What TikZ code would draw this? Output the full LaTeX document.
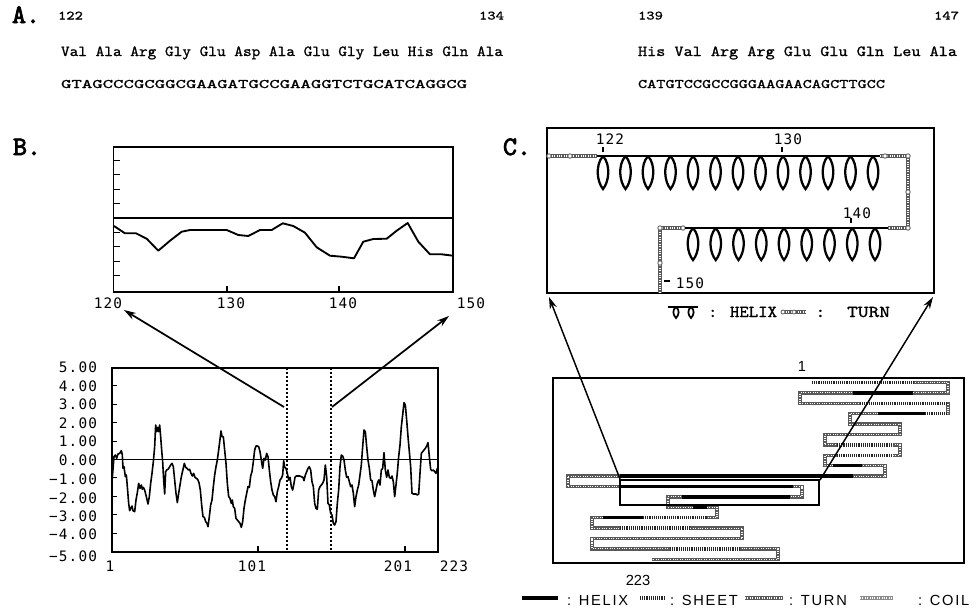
\documentclass[tikz,border=0pt]{standalone}
\usepackage{fontspec}
\usepackage{graphicx}
\usetikzlibrary{arrows.meta}
\newfontfamily\axf[LetterSpace=8]{DejaVu Sans Mono}
\newfontfamily\helvsp[LetterSpace=12]{Liberation Sans}
\newfontfamily\helv{Liberation Sans}
\newfontfamily\lmmb[Extension=.otf, FakeBold=3]{lmmono10-regular}
\newfontfamily\lmmm[Extension=.otf, FakeBold=1]{lmmono10-regular}
\newdimen\pxu \pxu=0.75pt
\newcommand\fitw[2]{\resizebox{#1\pxu}{\height}{#2}}
\def\serp{(812,382.5) -- (948,382.5) -- (948,392.9) -- (800,392.9) -- (800,403.3) -- (948,403.3) -- (948,413.7) -- (850,413.7) -- (850,424.1) -- (900,424.1) -- (900,434.5) -- (825,434.5) -- (825,444.9) -- (900,444.9) -- (900,455.3) -- (825,455.3) -- (825,465.7) -- (885,465.7) -- (885,476.1) -- (568,476.1) -- (568,486.5) -- (802,486.5) -- (802,496.9) -- (668,496.9) -- (668,507.3) -- (717,507.3) -- (717,517.7) -- (592,517.7) -- (592,528.1) -- (742,528.1) -- (742,538.5) -- (592,538.5) -- (592,548.9) -- (778,548.9) -- (778,559.3) -- (652,559.3)}
\begin{document}
\begin{tikzpicture}[x=0.75pt,y=-0.75pt,
  every node/.style={inner sep=0pt,outer sep=0pt},
  panel/.style={font=\lmmb\fontsize{20}{20}\selectfont, anchor=base west},
  seqnum/.style={font=\lmmm\fontsize{9.5}{10}\selectfont},
  seqtxt/.style={font=\lmmm\fontsize{11.5}{12}\selectfont, anchor=base west},
  dnatxt/.style={font=\lmmm\fontsize{9.8}{10}\selectfont, anchor=base west},
  axl/.style={font=\axf\fontsize{10.8}{11}\selectfont},
  sfl/.style={font=\helv\fontsize{11}{12}\selectfont},
  plotframe/.style={draw=black, line width=1pt},
  zeroline/.style={draw=black, line width=0.9pt},
  tickline/.style={draw=black, line width=0.8pt},
  profile/.style={draw=black, line width=1.4pt, line join=round},
  selline/.style={draw=black, line width=0.8pt, dash pattern=on 1.5pt off 1.5pt},
  zoomarrow/.style={draw=black, line width=1.3pt, -{Stealth[length=9pt,width=5.5pt]}},
  hlx/.style={draw=black, line width=1.7pt},
  turnp/.style={draw=black!65, line width=2.4pt},
  turntex/.style={draw=white, line width=0.8pt, dash pattern=on 0.8pt off 1pt},
  band/.style={draw=black!65, line width=2.6pt},
  coilb/.style={draw=black!45, line width=2.6pt},
  sheetb/.style={preaction={draw=white, line width=2.8pt, solid}, draw=black!85, line width=2.6pt, dash pattern=on 0.7pt off 0.7pt},
  helixb/.style={draw=black, line width=2.6pt},
  lgdm/.style={font=\lmmm\fontsize{12.5}{13}\selectfont, anchor=base west},
  lgds/.style={font=\helvsp\fontsize{11}{12}\selectfont, anchor=base west}
]
\useasboundingbox (0,0) rectangle (976,612);

% ---------------- Panel A ----------------
\node[panel] (A) at (12,23) {A.};
\node[seqnum, anchor=base west] (n122) at (58,19.5) {\fitw{25}{122}};
\node[seqnum, anchor=base east] (n134) at (504,19.5) {\fitw{25}{134}};
\node[seqnum, anchor=base west] (n139) at (638,19.5) {\fitw{25}{139}};
\node[seqnum, anchor=base east] (n147) at (959,19.5) {\fitw{25}{147}};
\node[seqtxt] (p1) at (61,56) {\fitw{442}{Val Ala Arg Gly Glu Asp Ala Glu Gly Leu His Gln Ala}};
\node[seqtxt] (p2) at (638,56) {\fitw{319}{His Val Arg Arg Glu Glu Gln Leu Ala}};
\node[dnatxt] (d1) at (61,88) {\fitw{406}{GTAGCCCGCGGCGAAGATGCCGAAGGTCTGCATCAGGCG}};
\node[dnatxt] (d2) at (638,88) {\fitw{247}{CATGTCCGCCGGGAAGAACAGCTTGCC}};

% ---------------- Panel B ----------------
\node[panel] (B) at (13,155) {B.};
% zoomed plot
\draw[plotframe] (113.5,147) rectangle (453,292);
\draw[zeroline] (113.5,218) -- (453,218);
\foreach \ty in {160.4,174.8,189.2,203.6,232.4,246.8,261.2,275.6}
  \draw[tickline] (113.5,\ty) -- (120,\ty);
\foreach \tx in {227,339} \draw[tickline] (\tx,292) -- (\tx,286);
\draw[profile] (114,226) -- (125,233.3) -- (136,233.3) -- (146.7,238.7) -- (158.3,250.7) -- (170,240.7) -- (181.7,231.7) -- (190,230) -- (226.7,230) -- (238.3,235) -- (248.3,236) -- (260,230) -- (271.7,230) -- (282.7,223.3) -- (293.3,226) -- (305,232.7) -- (316.7,247.3) -- (330,255.7) -- (341.7,256.7) -- (354,258.3) -- (363.3,241.7) -- (373.3,239) -- (386.7,238.7) -- (396.7,230.7) -- (407.7,223) -- (418.3,241.7) -- (430,254.3) -- (441.7,254.3) -- (453,255.7);
\node[axl] (l120) at (108,303) {120};
\node[axl] (l130) at (231,303) {130};
\node[axl] (l140) at (343,303) {140};
\node[axl] (l150) at (471,303) {150};

% full plot
\draw[plotframe] (112,368) rectangle (438,552);
\draw[zeroline] (112,459.5) -- (438,459.5);
\foreach \ty in {385.9,404.3,422.7,441.1,477.9,496.3,514.7,533.1}
  \draw[tickline] (112,\ty) -- (117,\ty);
\foreach \tx in {258,405} \draw[tickline] (\tx,552) -- (\tx,546);
\draw[selline] (287,368) -- (287,552);
\draw[selline] (331,368) -- (331,552);
\foreach \v/\yy [count=\i] in {5.00/367,4.00/386,3.00/404,2.00/423,1.00/441,0.00/460,−1.00/479,−2.00/498,−3.00/516,−4.00/534,−5.00/556}
  \node[axl, anchor=east] (yl\i) at (97,\yy) {\v};
\node[axl] (x1) at (110,566) {1};
\node[axl] (x101) at (252,566) {101};
\node[axl] (x201) at (398,566) {201};
\node[axl] (x223) at (454,566) {223};
\begin{scope}[xshift=81pt, yshift=-292.5pt, x=0.25pt, y=-0.25pt]
\draw[profile, line width=1.2pt] plot coordinates {(12,275) (18,200) (22,195) (26,205) (30,192) (35,190) (40,182) (43,195) (45,235) (48,230) (52,260) (55,255) (58,290) (62,340) (65,362) (68,355) (72,348) (75,362) (80,365) (84,330) (88,308) (92,280) (96,295) (100,285) (103,298) (106,292) (110,300) (115,320) (120,342) (124,320) (128,280) (132,250) (136,215) (140,170) (143,105) (146,125) (149,112) (152,125) (155,105) (158,140) (161,180) (164,215) (167,270) (170,312) (173,245) (176,240) (180,238) (184,232) (188,225) (192,220) (196,230) (200,270) (204,310) (208,338) (212,310) (216,285) (220,260) (225,238) (229,220) (233,232) (237,235) (241,240) (245,238) (249,250) (253,258) (257,250) (261,262) (265,265) (269,268) (273,278) (277,300) (281,345) (285,380) (289,382) (293,395) (297,400) (300,410) (304,380) (308,345) (312,330) (316,290) (320,255) (324,230) (328,210) (332,180) (336,148) (339,123) (342,140) (346,140) (350,180) (354,220) (358,280) (362,320) (366,325) (370,340) (373,330) (376,350) (380,355) (384,385) (388,390) (392,395) (396,400) (400,412) (404,395) (408,355) (412,330) (416,310) (420,290) (424,292) (428,258) (432,245) (436,215) (440,180) (444,168) (448,168) (452,170) (456,185) (460,210) (464,235) (468,205) (472,210) (476,190) (480,200) (484,240) (488,275) (492,300) (496,315) (500,320) (504,335) (508,305) (512,290) (516,270) (520,265) (524,255) (527,212) (530,232) (534,235) (538,250) (542,270) (546,262) (550,290) (554,300) (558,280) (561,262) (565,258) (570,258) (575,258) (580,260) (585,262) (588,272) (592,255) (596,245) (600,235) (604,230) (608,240) (612,275) (616,290) (620,340) (624,355) (628,358) (632,300) (636,290) (640,285) (644,280) (648,270) (652,225) (656,260) (660,340) (664,345) (668,370) (672,375) (676,400) (680,405) (684,395) (688,340) (692,300) (696,230) (700,195) (704,198) (708,210) (712,240) (716,262) (720,260) (724,275) (728,290) (732,285) (736,310) (740,350) (744,320) (748,300) (752,285) (756,255) (760,225) (764,170) (768,120) (772,125) (776,170) (780,210) (784,235) (788,270) (792,272) (796,300) (800,320) (804,300) (808,280) (812,270) (816,285) (820,240) (824,235) (828,188) (832,240) (836,262) (840,240) (844,262) (848,265) (852,258) (856,275) (860,320) (864,285) (868,248) (872,200) (876,165) (880,110) (884,75) (888,38) (892,45) (896,90) (900,140) (904,185) (908,230) (912,310) (916,312) (920,312) (924,312) (928,315) (932,312) (936,250) (940,190) (944,185) (948,180) (952,175) (956,168) (960,158) (964,200) (968,238) (972,242) (976,240) (980,245) (984,250) (988,235) (990,240)};
\end{scope}
\coordinate (bL) at (284,407);
\coordinate (bR) at (332,407);
\coordinate (tL) at (124,310);
\coordinate (tR) at (449,316);
\draw[zoomarrow] (bL) -- (tL);
\draw[zoomarrow] (bR) -- (tR);

% ---------------- Panel C ----------------
\node[panel] (C) at (503,155) {C.};
\draw[plotframe] (547,128) rectangle (934,293);
% turns
\draw[turnp] (547,156) -- (597,156);
\draw[turnp] (880,156) -- (908,156) -- (908,228) -- (888,228);
\draw[turnp] (685,228) -- (660,228) -- (660,293);
\draw[turntex] (547,156) -- (597,156);
\draw[turntex] (880,156) -- (908,156) -- (908,228) -- (888,228);
\draw[turntex] (685,228) -- (660,228) -- (660,293);
\foreach \mx/\my in {549/156,570/156,885/156,908/156,908/192,908/228,683/228,660/228,660/263}
  \draw[draw=black!60, fill=white, line width=0.7pt] (\mx,\my) circle (2.2);
% helices
\draw[hlx] (597,156) -- (880,156);
\foreach \cx in {603,625.5,...,874}
  \draw[hlx] (\cx,156) .. controls (\cx-8,165) and (\cx-6,182) .. (\cx,189) .. controls (\cx+6,182) and (\cx+8,165) .. (\cx,156);
\draw[hlx] (685,228) -- (888,228);
\foreach \cx in {693,715.75,...,876}
  \draw[hlx] (\cx,228) .. controls (\cx-8,237) and (\cx-6,253) .. (\cx,260) .. controls (\cx+6,253) and (\cx+8,237) .. (\cx,228);
% residue labels
\node[axl] (c122) at (610,139) {122};
\draw[tickline] (603,147) -- (603,152);
\node[axl] (c130) at (788,139) {130};
\draw[tickline] (782,147) -- (782,152);
\node[axl] (c140) at (857,213) {140};
\draw[tickline] (851,218) -- (851,223);
\draw[tickline] (664,281) -- (670,281);
\node[axl] (c150) at (690,283) {150};
% legend
\draw[hlx] (668,307) -- (698,307);
\foreach \cx in {676,691}
  \draw[hlx, line width=1.3pt] (\cx,307) .. controls (\cx-4,310) and (\cx-3,315) .. (\cx,318) .. controls (\cx+3,315) and (\cx+4,310) .. (\cx,307);
\node[lgdm] (lh) at (708,317) {\fitw{69}{: HELIX}};
\draw[turnp] (781,312) -- (806,312);
\draw[turntex] (781,312) -- (806,312);
\draw[draw=black!60, fill=white, line width=0.6pt] (783,312) circle (2);
\draw[draw=black!60, fill=white, line width=0.6pt] (794,312) circle (2);
\node[lgdm] (lt) at (815,317) {\fitw{75}{:\ \ TURN}};

% secondary structure overview
\draw[plotframe] (553,378) rectangle (964,563);
\node[sfl] (s1) at (802,366) {1};
\node[sfl] (s223) at (638,580) {223};
\draw[band] \serp;
\draw[turntex] \serp;
% sheets
\draw[sheetb] (812,382.5) -- (913,382.5);
\draw[sheetb] (860,403.3) -- (946,403.3);
\draw[sheetb] (925,413.7) -- (946,413.7);
\draw[sheetb] (837,444.9) -- (893,444.9);
\draw[sheetb] (837,455.3) -- (893,455.3);
\draw[sheetb] (643,517.7) -- (707,517.7);
\draw[sheetb] (620,528.1) -- (690,528.1);
\draw[sheetb] (670,548.9) -- (740,548.9);
% helices
\draw[helixb] (853,392.9) -- (913,392.9);
\draw[helixb] (878,413.7) -- (925,413.7);
\draw[helixb] (833,465.7) -- (862,465.7);
\draw[helixb] (620,476.1) -- (853,476.1);
\draw[helixb] (620,486.5) -- (793,486.5);
\draw[helixb] (682,496.9) -- (790,496.9);
\draw[helixb] (693,507.3) -- (707,507.3);
\draw[helixb] (603,517.7) -- (643,517.7);
% selection window
\draw[line width=0.9pt] (620,480) rectangle (819,505);
\coordinate (selL) at (620,479);
\coordinate (selR) at (820,480);
\coordinate (cL) at (549,297);
\coordinate (cR) at (933,297);
\draw[zoomarrow, line width=1.1pt] (selL) -- (cL);
\draw[zoomarrow, line width=1.1pt] (selR) -- (cR);

% bottom legend
\draw[helixb, line width=3pt] (522,598) -- (558,598);
\node[lgds] (bh) at (567,605) {: HELIX};
\draw[sheetb] (640,598) -- (665,598);
\node[lgds] (bs) at (670,605) {: SHEET};
\draw[band] (745,598) -- (783,598);
\draw[turntex] (745,598) -- (783,598);
\node[lgds] (bt) at (789,605) {: TURN};
\draw[coilb] (860,598) -- (893,598);
\draw[turntex] (860,598) -- (893,598);
\node[lgds] (bc) at (918,605) {: COIL};
\end{tikzpicture}
\end{document}
